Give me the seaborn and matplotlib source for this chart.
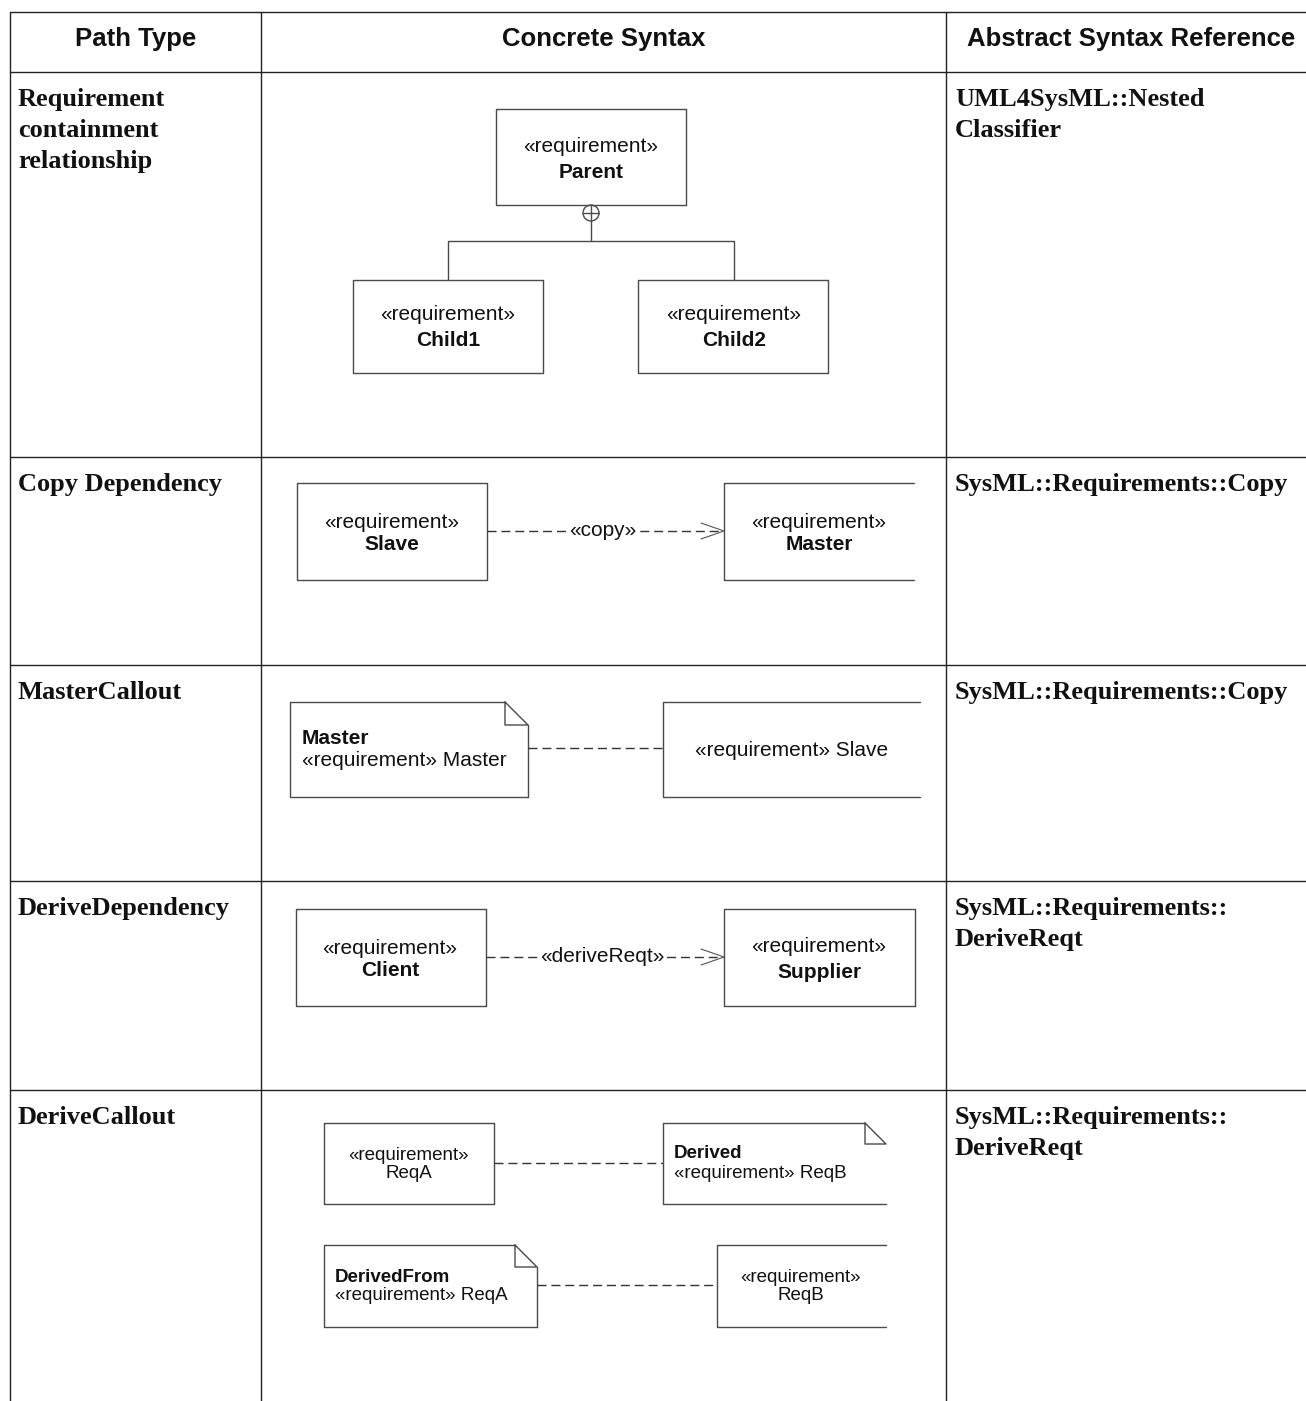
import matplotlib.pyplot as plt
from matplotlib.patches import Circle
import seaborn as sns

# ---- table content ----
headers = ['Path Type', 'Concrete Syntax', 'Abstract Syntax Reference']
path_types = [['Requirement', 'containment', 'relationship'],
              ['Copy Dependency'],
              ['MasterCallout'],
              ['DeriveDependency'],
              ['DeriveCallout']]
abstract_refs = [['UML4SysML::Nested', 'Classifier'],
                 ['SysML::Requirements::Copy'],
                 ['SysML::Requirements::Copy'],
                 ['SysML::Requirements::', 'DeriveReqt'],
                 ['SysML::Requirements::', 'DeriveReqt']]

# ---- diagram content ----
stereo = '«requirement»'
containment_names = ['Parent', 'Child1', 'Child2']
copy_names = ['Slave', 'Master']
copy_label = '«copy»'
master_note = ['Master', '«requirement» Master']
master_target = '«requirement» Slave'
derive_names = ['Client', 'Supplier']
derive_label = '«deriveReqt»'
callout_reqs = ['ReqA', 'ReqB']
callout_notes = [['Derived', '«requirement» ReqB'],
                 ['DerivedFrom', '«requirement» ReqA']]

# ---- layout (pixels) ----
W, H = 1306, 1401
col_x = [10, 261, 946]
row_y = [12, 72, 457, 665, 881, 1090]
line_step = 31

sns.set_theme(style='white')
plt.rcParams['font.family'] = ['Liberation Sans', 'DejaVu Sans']

fig = plt.figure(figsize=(W / 100, H / 100), dpi=100)
ax = fig.add_axes([0, 0, 1, 1])
ax.set_xlim(0, W)
ax.set_ylim(H, 0)
ax.axis('off')

BOX = '#4a4a4a'
DASH = '#333333'
TXT = '#111111'


def box(x0, y0, x1, y1, right=True):
    ax.plot([x1, x0, x0, x1], [y0, y0, y1, y1], color=BOX, lw=1.0)
    if right:
        ax.plot([x1, x1], [y0, y1], color=BOX, lw=1.0)


def note(x0, y0, x1, y1, fold=22, right=True):
    ax.plot([x1 - fold, x0, x0, x1], [y0, y0, y1, y1], color=BOX, lw=1.0)
    ax.plot([x1 - fold, x1 - fold, x1, x1 - fold], [y0, y0 + fold, y0 + fold, y0],
            color=BOX, lw=1.0)
    if right:
        ax.plot([x1, x1], [y0 + fold, y1], color=BOX, lw=1.0)


def dashed(x0, x1, y, label=None, fs=15):
    ax.plot([x0, x1], [y, y], color=DASH, lw=1.0, dashes=(6.5, 3.5))
    if label:
        ax.text((x0 + x1) / 2 - 2, y, label, ha='center', va='center', fontsize=fs,
                color=TXT, bbox=dict(facecolor='white', edgecolor='none', pad=1.0))


def open_arrow(x, y, length=23, half=8):
    ax.plot([x - length, x, x - length], [y - half, y, y + half], color='#555555', lw=0.8)


def req_text(cx, y_top, name, fs=15, bold=True, gap=24):
    ax.text(cx, y_top, stereo, ha='center', va='center', fontsize=fs, color=TXT)
    ax.text(cx, y_top + gap, name, ha='center', va='center', fontsize=fs, color=TXT,
            fontweight='bold' if bold else 'normal')


# ---- table grid ----
for y in row_y:
    ax.plot([col_x[0], W], [y, y], color='#222222', lw=1.0)
for x in col_x:
    ax.plot([x, x], [row_y[0], H], color='#222222', lw=1.0)

# ---- header ----
head_cx = [136, 604, 1131]
for cx, lab in zip(head_cx, headers):
    ax.text(cx, 39, lab, ha='center', va='center', fontsize=18.5,
            fontweight='bold', color=TXT)

# ---- left / right columns ----
for r, (pt, ref) in enumerate(zip(path_types, abstract_refs)):
    y0 = row_y[r + 1] + 27.5
    for i, s in enumerate(pt):
        ax.text(18, y0 + i * line_step, s, ha='left', va='center', fontsize=19,
                fontweight='bold', family=['Liberation Serif', 'DejaVu Serif'], color=TXT)
    for i, s in enumerate(ref):
        ax.text(955, y0 + i * line_step, s, ha='left', va='center', fontsize=19,
                fontweight='bold', family=['Liberation Serif', 'DejaVu Serif'], color=TXT)

# ---- row 1: containment ----
box(496, 109, 686, 205)
req_text(591, 146, containment_names[0], gap=26)
ax.add_patch(Circle((591, 213), 8, fill=False, edgecolor=BOX, lw=1.0))
ax.plot([583, 599], [213, 213], color=BOX, lw=1.0)
ax.plot([591, 591], [205.5, 241], color=BOX, lw=1.0)
ax.plot([448, 448, 734, 734], [280, 241, 241, 280], color=BOX, lw=1.0)
box(353, 280, 543, 373)
req_text(448, 315, containment_names[1], gap=25)
box(638, 280, 828, 373)
req_text(734, 315, containment_names[2], gap=25)

# ---- row 2: copy dependency ----
box(297, 483, 487, 580)
req_text(392, 522, copy_names[0], gap=23)
box(724, 483, 914, 580, right=False)
req_text(819, 522, copy_names[1], gap=23)
dashed(487, 723, 531, copy_label)
open_arrow(724, 531)

# ---- row 3: master callout ----
note(290, 702, 528, 797, fold=23)
ax.text(302, 739, master_note[0], ha='left', va='center', fontsize=15,
        fontweight='bold', color=TXT)
ax.text(302, 760, master_note[1], ha='left', va='center', fontsize=15, color=TXT)
dashed(528, 663, 748)
box(663, 702, 920, 797, right=False)
ax.text(792, 750, master_target, ha='center', va='center', fontsize=15, color=TXT)

# ---- row 4: derive dependency ----
box(296, 909, 486, 1006)
req_text(390, 948, derive_names[0], gap=23)
box(724, 909, 915, 1006)
req_text(819, 946, derive_names[1], gap=26)
dashed(486, 723, 957, derive_label)
open_arrow(724, 957)

# ---- row 5: derive callout ----
box(324, 1123, 494, 1204)
req_text(409, 1155, callout_reqs[0], fs=13.5, bold=False, gap=18)
dashed(494, 663, 1163)
note(663, 1123, 886, 1204, fold=21, right=False)
ax.text(674, 1153, callout_notes[0][0], ha='left', va='center', fontsize=13.5,
        fontweight='bold', color=TXT)
ax.text(674, 1174, callout_notes[0][1], ha='left', va='center', fontsize=13.5, color=TXT)

note(324, 1245, 537, 1327, fold=22)
ax.text(335, 1277, callout_notes[1][0], ha='left', va='center', fontsize=13.5,
        fontweight='bold', color=TXT)
ax.text(335, 1295, callout_notes[1][1], ha='left', va='center', fontsize=13.5, color=TXT)
dashed(537, 717, 1285)
box(717, 1245, 886, 1327, right=False)
req_text(801, 1277, callout_reqs[1], fs=13.5, bold=False, gap=18)

fig.savefig('out.png', dpi=100)
